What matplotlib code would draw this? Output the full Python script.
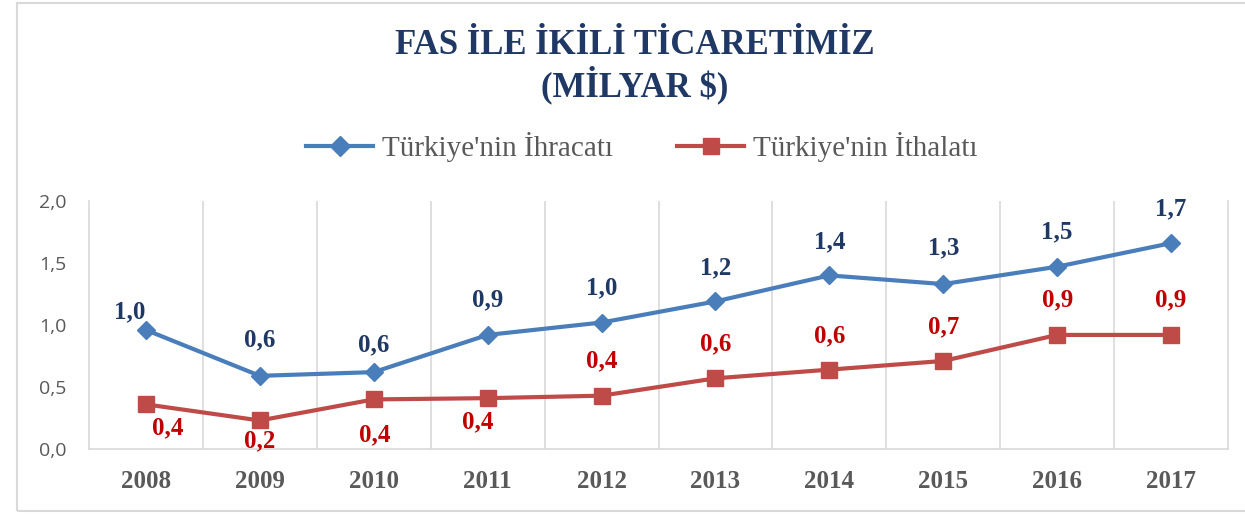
import matplotlib
matplotlib.use("Agg")
import matplotlib.pyplot as plt
from matplotlib.patches import FancyBboxPatch
from matplotlib.lines import Line2D

years = ["2008", "2009", "2010", "2011", "2012", "2013", "2014", "2015", "2016", "2017"]
ihracat = [0.96, 0.59, 0.62, 0.92, 1.02, 1.19, 1.40, 1.33, 1.47, 1.66]
ithalat = [0.36, 0.23, 0.40, 0.41, 0.43, 0.57, 0.64, 0.71, 0.92, 0.92]
ihracat_labels = ["1,0", "0,6", "0,6", "0,9", "1,0", "1,2", "1,4", "1,3", "1,5", "1,7"]
ithalat_labels = ["0,4", "0,2", "0,4", "0,4", "0,4", "0,6", "0,6", "0,7", "0,9", "0,9"]
yticks = [0.0, 0.5, 1.0, 1.5, 2.0]
ytick_labels = ["0,0", "0,5", "1,0", "1,5", "2,0"]

title = "FAS İLE İKİLİ TİCARETİMİZ\n(MİLYAR $)"
series_names = ["Türkiye'nin İhracatı", "Türkiye'nin İthalatı"]

# label offsets in pixels (dx, dy upward positive) -- styling only
exp_off = [(-16, 18), (0, 36), (0, 27), (0, 35), (0, 35), (0, 34), (0, 34), (0, 36), (0, 35), (0, 34)]
imp_off = [(22, -23), (0, -20), (1, -35), (-10, -24), (0, 35), (0, 35), (0, 34), (0, 34), (0, 35), (0, 35)]

BLUE = "#4A7EBB"
RED = "#BE4B48"
NAVY = "#1F3864"
DARKRED = "#C00000"
GRAY = "#595959"
GRID = "#D9D9D9"

W, H = 1245, 514
fig = plt.figure(figsize=(W / 100, H / 100), dpi=100)
fig.patch.set_facecolor("white")

border = FancyBboxPatch((17 / W, 3 / H), (1260 - 17) / W, (511 - 3) / H,
                        boxstyle="square,pad=0", transform=fig.transFigure,
                        fill=False, edgecolor="#D9D9D9", linewidth=1.5)
fig.patches.append(border)

ax = fig.add_axes([89 / W, 1 - 449 / H, (1228 - 89) / W, (449 - 201) / H])
x = list(range(len(years)))
ax.set_xlim(-0.5, len(years) - 0.5)
ax.set_ylim(0, 2.0)

ax.spines["top"].set_visible(False)
for s in ["left", "right", "bottom"]:
    ax.spines[s].set_color(GRID)
    ax.spines[s].set_linewidth(1.2)

for b in range(1, len(years)):
    ax.axvline(b - 0.5, color=GRID, linewidth=1.2, zorder=0)

ax.plot(x, ihracat, color=BLUE, linewidth=3, marker="D", markersize=9,
        markerfacecolor=BLUE, markeredgecolor=BLUE, zorder=3)
ax.plot(x, ithalat, color=RED, linewidth=3, marker="s", markersize=11,
        markerfacecolor=RED, markeredgecolor=RED, zorder=3)

lab_font = dict(family="Liberation Serif", fontweight="bold", fontsize=18)
for i, (v, t) in enumerate(zip(ihracat, ihracat_labels)):
    dx, dy = exp_off[i]
    ax.annotate(t, (i, v), xytext=(dx * 0.72, dy * 0.72), textcoords="offset points",
                ha="center", va="center", color=NAVY, **lab_font)
for i, (v, t) in enumerate(zip(ithalat, ithalat_labels)):
    dx, dy = imp_off[i]
    ax.annotate(t, (i, v), xytext=(dx * 0.72, dy * 0.72), textcoords="offset points",
                ha="center", va="center", color=DARKRED, **lab_font)

ax.set_xticks(x)
ax.set_xticklabels(years, family="Liberation Serif", fontweight="bold",
                   fontsize=18, color=GRAY)
ax.set_yticks(yticks)
ax.set_yticklabels(ytick_labels, family="Open Sans", fontsize=14, color=GRAY)
ax.tick_params(axis="both", length=0)
ax.tick_params(axis="x", pad=15)
ax.tick_params(axis="y", pad=16)

fig.text(635 / W, 1 - 67 / H, title, ha="center",
         va="center", color=NAVY, family="Liberation Serif",
         fontweight="bold", fontsize=25, linespacing=1.12)

handles = [Line2D([], [], color=BLUE, linewidth=3, marker="D", markersize=10),
           Line2D([], [], color=RED, linewidth=3, marker="s", markersize=12)]
fig.legend(handles, series_names, loc="center", bbox_to_anchor=(642 / W, 1 - 147 / H),
           ncol=2, frameon=False, prop=dict(family="Liberation Serif", size=21),
           labelcolor="#595959", handlelength=2.3, columnspacing=2.2, handletextpad=0.3)

fig.savefig("out.png", dpi=100, facecolor="white")
